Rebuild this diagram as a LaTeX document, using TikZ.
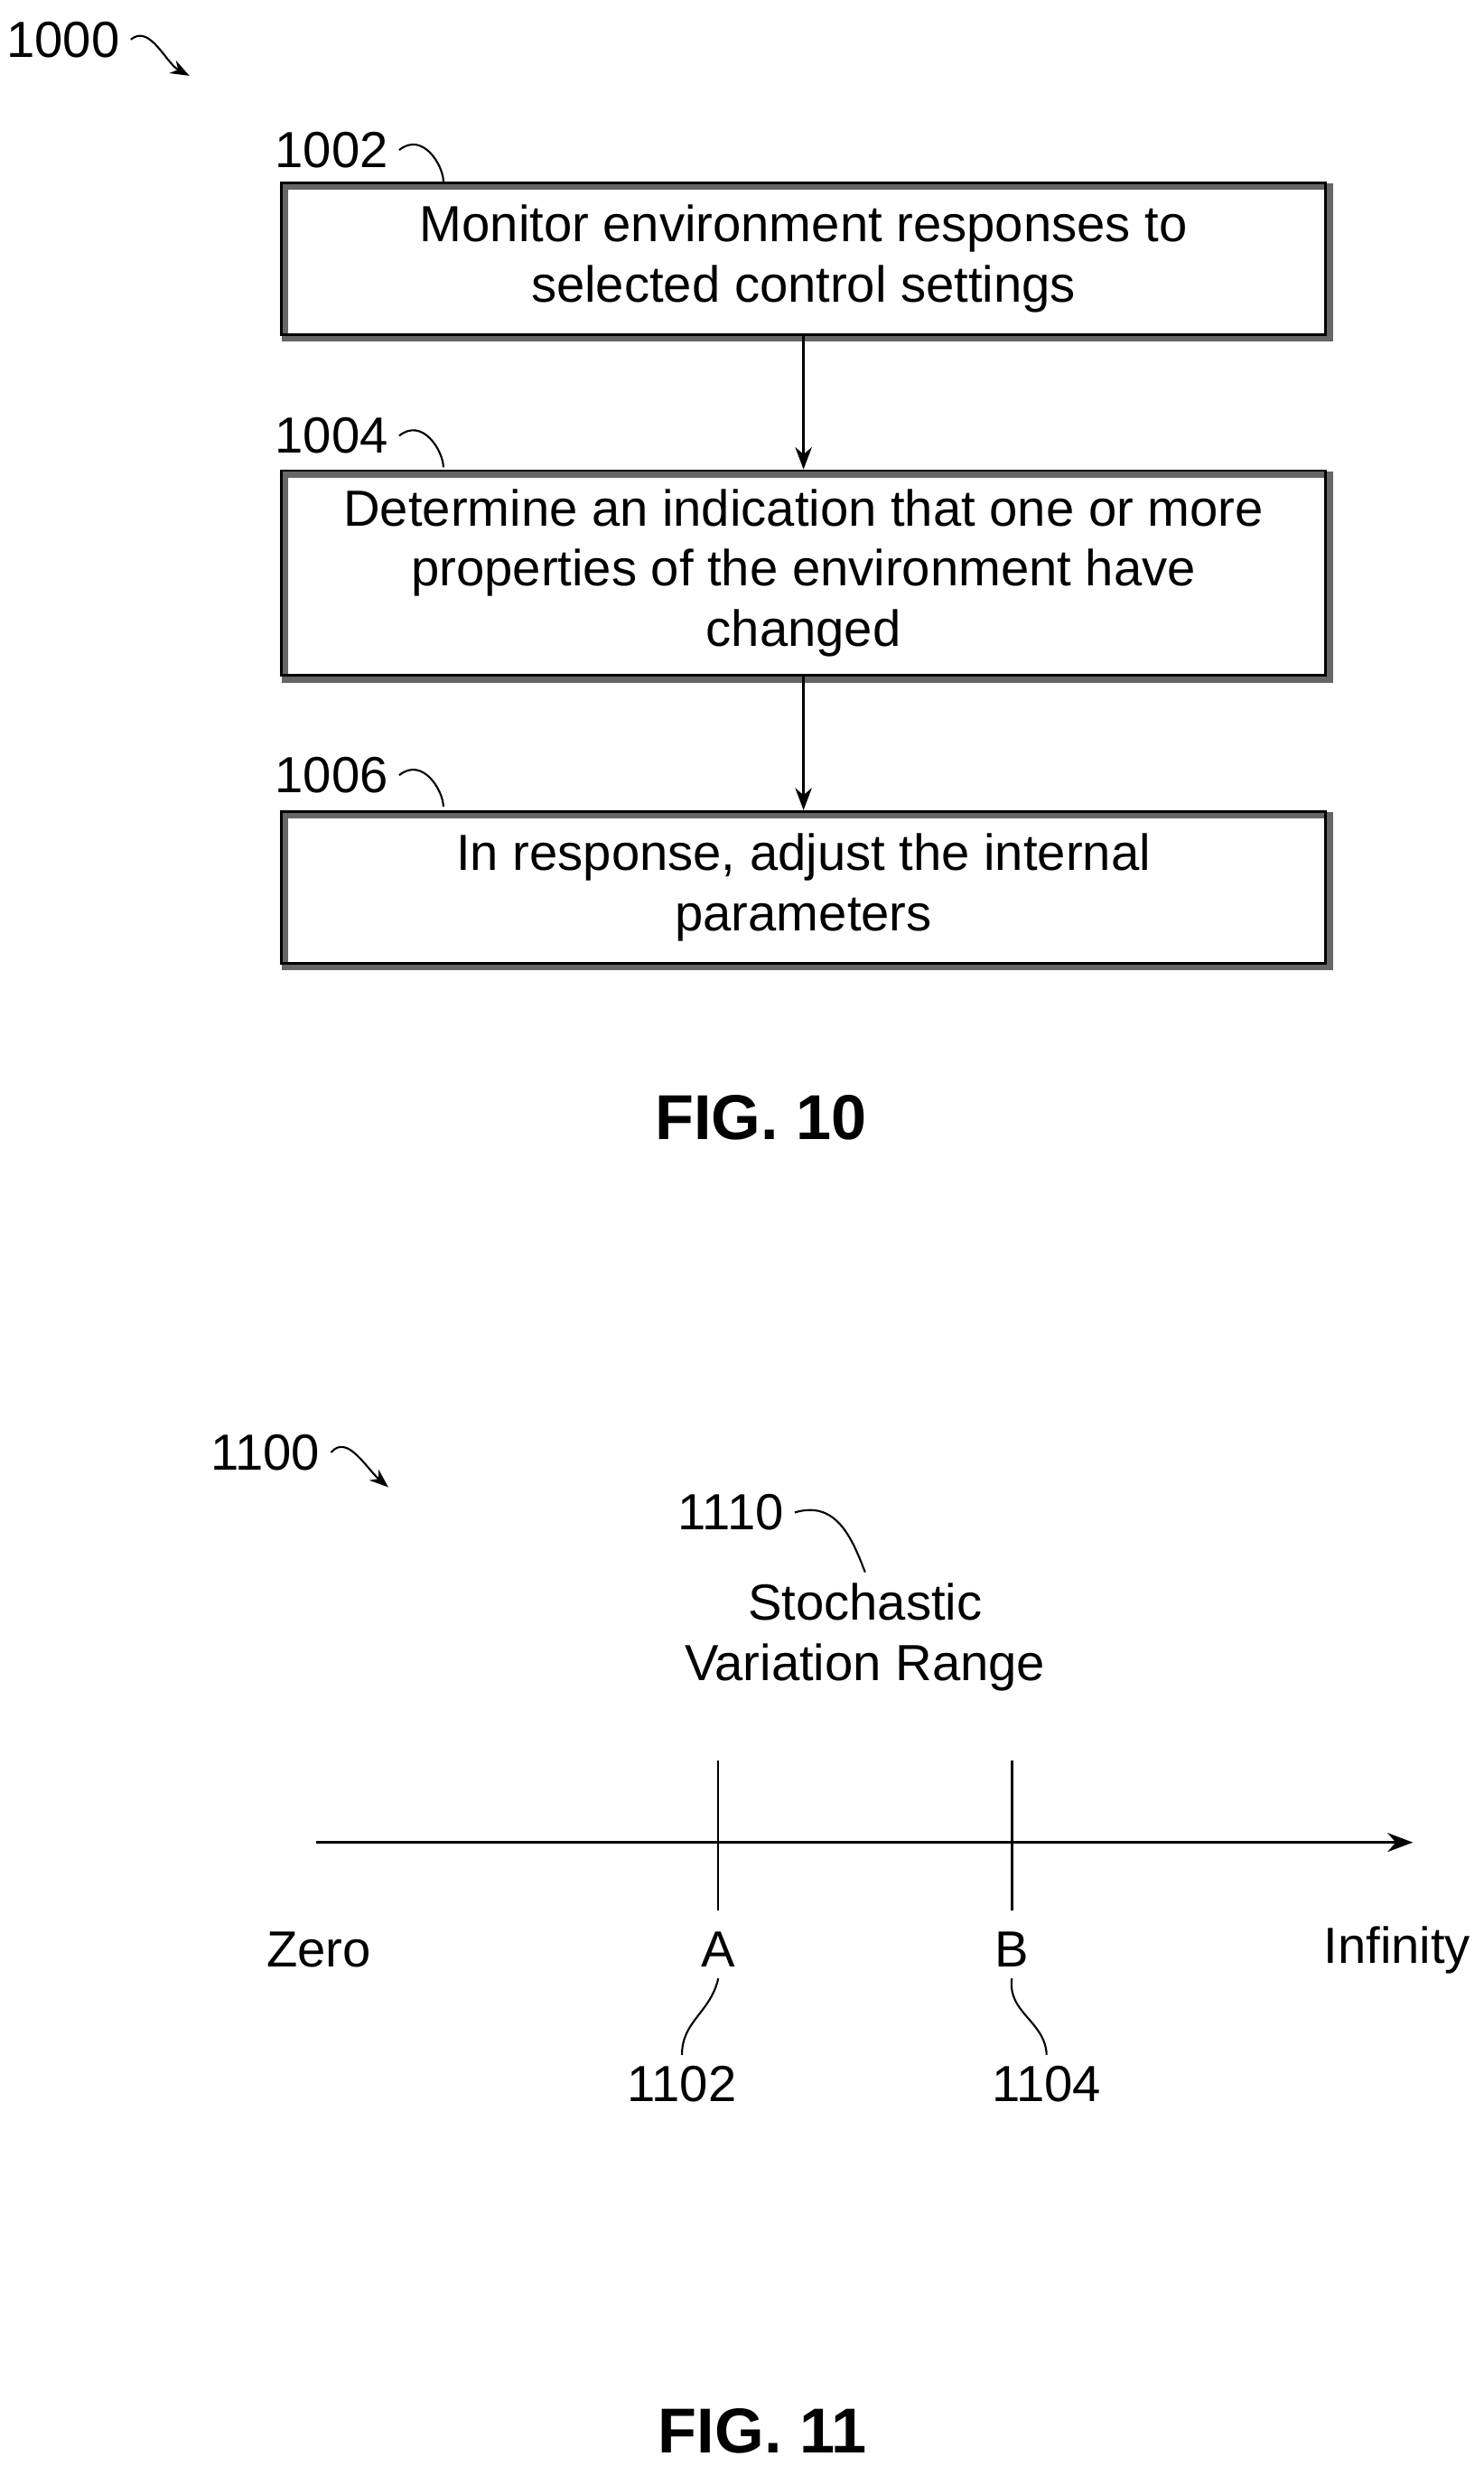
\documentclass[tikz,border=0pt]{standalone}
\usepackage{fontspec}
\setmainfont{Liberation Sans}
\usetikzlibrary{calc}
\usetikzlibrary{arrows.meta}
\tikzset{
  stepbox/.style={draw, line width=0.8pt, minimum width=11.57cm, minimum height=1.68cm, align=center,
    font=\fontsize{16}{19}\selectfont,
    preaction={draw, line width=2pt, black!60, transform canvas={shift={(1.2pt,-1.2pt)}}}},
  reflabel/.style={font=\fontsize{16}{19}\selectfont},
  figlabel/.style={font=\bfseries\fontsize{20}{24}\selectfont},
  lead/.style={line width=0.6pt},
  flow/.style={line width=0.7pt, -{Stealth[length=7pt]}}
}
\begin{document}
\begin{tikzpicture}[x=0.01748cm, y=-0.01748cm]
      \useasboundingbox (0,0) rectangle (940,1562);
      % FIG. 10
      \node[reflabel] (n1000) at (40,25) {1000};
      \coordinate (p1000) at (120,48);
      \draw[lead, -{Stealth[length=6pt]}] (n1000.east) .. controls (95,15) and (105,40) .. (p1000);

      \node[stepbox, minimum height=1.68cm] (s1002) at (509,164) {Monitor environment responses to\\selected control settings};
      \node[stepbox, minimum height=2.27cm] (s1004) at (509,363) {Determine an indication that one or more\\properties of the environment have\\changed};
      \node[stepbox, minimum height=1.68cm] (s1006) at (509,562) {In response, adjust the internal\\parameters};
      \draw[flow] (s1002) -- (s1004);
      \draw[flow] (s1004) -- (s1006);

      \node[reflabel] (n1002) at (210,95) {1002};
      \node[reflabel] (n1004) at (210,276) {1004};
      \node[reflabel] (n1006) at (210,491) {1006};
      \foreach \n in {1002,1004,1006}
        \draw[lead] (n\n.east) .. controls ++(15,-12) and ++(0,-10) .. ($(n\n.east)+(28,20)$);

      \node[figlabel] (fig10) at (482,708) {FIG. 10};

      % FIG. 11
      \node[reflabel] (n1100) at (168,920) {1100};
      \coordinate (p1100) at (246,942);
      \draw[lead, -{Stealth[length=6pt]}] (n1100.east) .. controls (220,908) and (232,930) .. (p1100);

      \node[reflabel] (n1110) at (463,958) {1110};
      \node[reflabel, align=center] (range) at (548,1037) {Stochastic\\Variation Range};
      \draw[lead] (n1110.east) .. controls (530,950) and (540,975) .. (range.north);

      \coordinate (zero) at (200,1167);
      \coordinate (inf) at (895,1167);
      \draw[line width=0.7pt, -{Stealth[length=8pt]}] (zero) -- (inf);
      \coordinate (tA) at (455,1115);
      \coordinate (tB) at (641,1115);
      \draw[line width=0.7pt] (tA) -- ++(0,95);
      \draw[line width=0.7pt] (tB) -- ++(0,95);

      \node[reflabel] (lzero) at (202,1235) {Zero};
      \node[reflabel] (lA) at (455,1235) {A};
      \node[reflabel] (lB) at (641,1235) {B};
      \node[reflabel] (linf) at (885,1235) {Infinity};

      \node[reflabel] (n1102) at (432,1320) {1102};
      \node[reflabel] (n1104) at (663,1320) {1104};
      \draw[lead] (lA.south) .. controls (450,1275) and (432,1280) .. (n1102.north);
      \draw[lead] (lB.south) .. controls (638,1275) and (662,1280) .. (n1104.north);

      \node[figlabel] (fig11) at (483,1540) {FIG. 11};
\end{tikzpicture}
\end{document}
